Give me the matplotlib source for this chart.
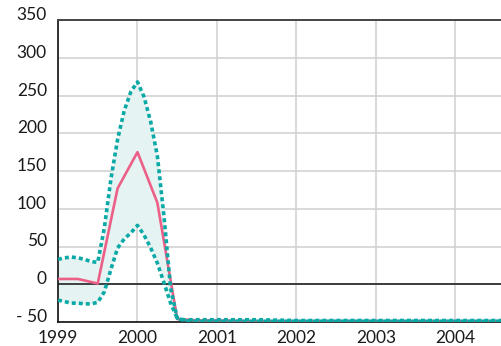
import matplotlib
matplotlib.use("Agg")
import matplotlib.pyplot as plt

plt.rcParams["font.family"] = ["Lato", "DejaVu Sans"]

# Central estimate, quarterly
quarters = [1999.0, 1999.25, 1999.5, 1999.75, 2000.0, 2000.25, 2000.5,
            2000.75, 2001.0, 2001.5, 2002.0, 2002.5, 2003.0, 2003.5, 2004.0, 2004.5, 2004.75]
central = [7, 7, 1, 127, 175, 108, -46,
           -48, -48, -49, -49, -49, -49, -49, -49, -49, -49]

# Upper and lower bounds, monthly through the peak
months = [1999 + m / 12 for m in range(0, 21)] + [2001.0, 2001.5, 2002.0, 2002.5,
                                                   2003.0, 2003.5, 2004.0, 2004.5, 2004.75]
upper = [33, 35, 36, 35, 33, 30, 29, 75, 140, 192, 230, 255, 268, 248, 215, 170,
         90, -5, -45, -47, -47, -47, -47, -48, -48, -48, -48, -48, -48, -48]
lower = [-21, -23, -25, -25, -26, -26, -24, -10, 20, 48, 60, 68, 78, 65, 48, 28,
         2, -25, -45, -48, -49, -49, -49, -49, -49, -49, -49, -49, -49, -49]

x_ticks = [1999, 2000, 2001, 2002, 2003, 2004]
x_labels = ["1999", "2000", "2001", "2002", "2003", "2004"]
y_ticks = [-50, 0, 50, 100, 150, 200, 250, 300, 350]
y_labels = ["- 50", "0", "50", "100", "150", "200", "250", "300", "350"]

teal = "#0aa9a6"
pink = "#ec6088"

fig = plt.figure(figsize=(5.02, 3.46), dpi=100)
ax = fig.add_axes([58 / 502, 1 - 322 / 346, 1 - 58 / 502 + 0.002, (322 - 20) / 346])

ax.fill_between(months, lower, upper, color="#e6f3f3", lw=0, zorder=1)
ax.plot(quarters, central, color=pink, lw=1.9, zorder=3)
for series in (upper, lower):
    ax.plot(months, series, color=teal, lw=2.6, linestyle=(0, (1.1, 0.85)),
            dash_capstyle="butt", zorder=4)

ax.axhline(0, color="#111111", lw=1.1, zorder=2)

ax.set_xlim(1999, 1999 + 444 / 79.3)
ax.set_ylim(-50, 350)
ax.set_xticks(x_ticks)
ax.set_xticklabels(x_labels)
ax.set_yticks(y_ticks)
ax.set_yticklabels(y_labels, va="baseline")
ax.tick_params(length=0, labelsize=12.5, colors="#1a1a1a")
ax.tick_params(axis="y", pad=8)
ax.tick_params(axis="x", pad=5.5)

ax.grid(True, color="#d0d0d0", lw=1.1, zorder=0)
ax.set_axisbelow(True)

for side in ("left", "bottom"):
    ax.spines[side].set_color("#111111")
    ax.spines[side].set_linewidth(1.2)
ax.spines["top"].set_color("#444444")
ax.spines["top"].set_linewidth(1.4)
ax.spines["right"].set_visible(False)

fig.savefig("out.png", dpi=100)
